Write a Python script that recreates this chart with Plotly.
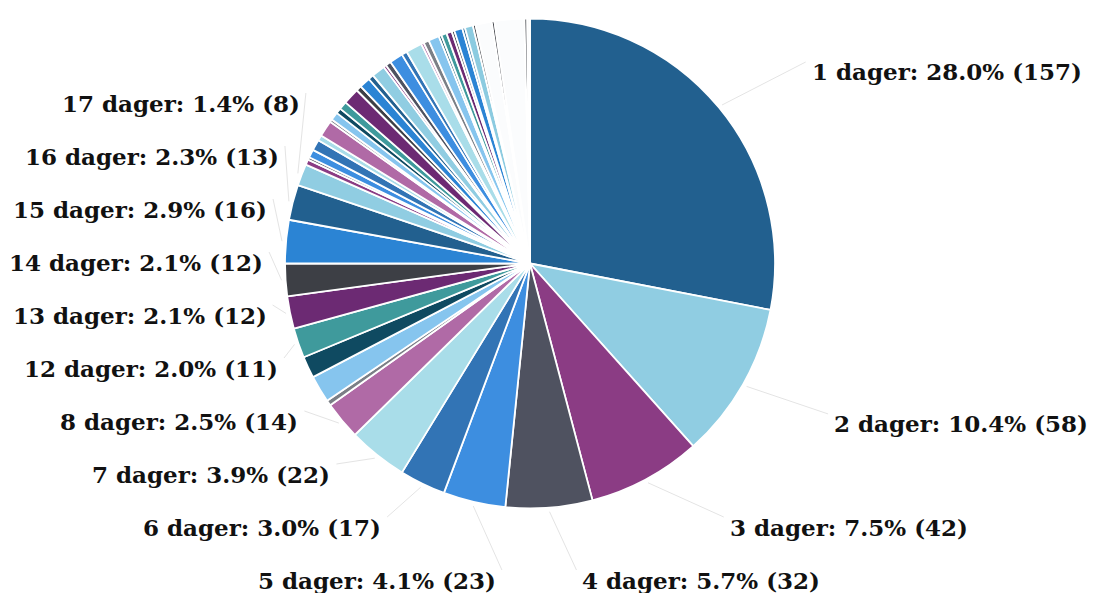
import math
import plotly.graph_objects as go

W, H = 1093, 593

# ---------------- data ----------------
days = [
    "1 dager", "2 dager", "3 dager", "4 dager", "5 dager", "6 dager", "7 dager", "8 dager",
    "9 dager", "10 dager", "11 dager", "12 dager", "13 dager", "14 dager", "15 dager",
    "16 dager", "17 dager", "18 dager", "19 dager", "20 dager", "21 dager", "22 dager",
    "23 dager", "24 dager", "25 dager", "26 dager", "27 dager", "28 dager", "29 dager",
    "30 dager", "31 dager", "32 dager", "33 dager", "34 dager", "35 dager", "36 dager",
    "37 dager", "38 dager", "39 dager", "40 dager", "41 dager", "42 dager", "43 dager",
    "44 dager", "45 dager", "46 dager", "47 dager", "48 dager", "49 dager", "50 dager",
    "51 dager", "52 dager", "53 dager",
]
counts = [
    157, 58, 42, 32, 23, 17, 22, 14,
    2, 10, 8, 11, 12, 12, 16,
    13, 8, 2, 1, 3, 4, 2,
    6, 1, 3, 2, 3, 6, 2,
    4, 2, 5, 1, 2, 5, 2,
    6, 1, 2, 4, 1, 2, 2,
    1, 3, 1, 3, 1, 6, 1,
    11, 1, 1,
]
labelled_days = [
    "1 dager", "2 dager", "3 dager", "4 dager", "5 dager", "6 dager", "7 dager",
    "8 dager", "12 dager", "13 dager", "14 dager", "15 dager", "16 dager", "17 dager",
]

# ---------------- styles ----------------
palette = [
    "#22608f", "#90cde2", "#8b3c84", "#4f5260", "#3d8ee0", "#3274b5", "#a9dde9",
    "#b06aa6", "#7b7f86", "#86c5ee", "#0f4a61", "#3f9a9c", "#6c2a73", "#3d3f45",
    "#2b84d4",
]
colors = [palette[i % len(palette)] for i in range(len(days))]
pale = "#fbfcfd"
for name, col in [("47 dager", "#8ccbe0"), ("48 dager", "#3d3f45"), ("49 dager", pale),
                  ("50 dager", "#3d3f45"), ("51 dager", pale), ("52 dager", "#2e3138"),
                  ("53 dager", pale)]:
    colors[days.index(name)] = col

CX, CY, R = 530.0, 263.5, 245.0
FONT = dict(family="DejaVu Serif", size=23, color="#111111", weight=700)

fig = go.Figure(go.Pie(
    labels=days,
    values=counts,
    sort=False,
    direction="clockwise",
    rotation=0,
    textinfo="none",
    hoverinfo="label+value+percent",
    marker=dict(colors=colors, line=dict(color="white", width=1.8)),
    domain=dict(x=[(CX - R) / W, (CX + R) / W], y=[1 - (CY + R) / H, 1 - (CY - R) / H]),
    showlegend=False,
))

# ---------------- label layout (derived from slice angles) ----------------
total = sum(counts)
BY = 1.327 * R         # vertical reach of the label ring
BX = 1.306 * R         # ring used for horizontal placement
SPACING = 53
YMAX = H - 13
YMIN = 72
items = []
cum = 0
for d, c in zip(days, counts):
    start = cum / total * 360
    cum += c
    end = cum / total * 360
    if d in labelled_days:
        mid = math.radians((start + end) / 2)
        side = "right" if math.sin(mid) >= 0 else "left"
        ny = CY - BY * math.cos(mid)
        items.append(dict(day=d, count=c, mid=mid, side=side, ny=ny))

for side in ("left", "right"):
    group = sorted([it for it in items if it["side"] == side], key=lambda it: -it["ny"])
    prev = None
    for it in group:
        y = min(it["ny"], YMAX) if prev is None else min(it["ny"], prev - SPACING)
        it["y"] = max(y, YMIN)
        prev = it["y"]

annotations = []
shapes = []
for it in items:
    y = it["y"]
    s = math.sqrt(max(0.0, 1 - ((y - CY) / BX) ** 2))
    if it["side"] == "left":
        x = CX + 8 - 1.114 * R * s
        xanchor = "right"
        lx = x + 4
    else:
        x = CX - 1 + 1.43 * R * s
        xanchor = "left"
        lx = x - 4
    pct = it["count"] / total * 100
    text = f"{it['day']}: {pct:.1f}% ({it['count']})"
    annotations.append(dict(
        x=x / W, y=1 - y / H, xref="paper", yref="paper", text=text,
        showarrow=False, xanchor=xanchor, yanchor="middle", font=FONT,
    ))
    ex = CX + (R + 4) * math.sin(it["mid"])
    ey = CY - (R + 4) * math.cos(it["mid"])
    shapes.append(dict(
        type="line", xref="paper", yref="paper",
        x0=ex / W, y0=1 - ey / H, x1=lx / W, y1=1 - (y - 10) / H,
        line=dict(color="#e4e4e4", width=1),
    ))

fig.update_layout(
    width=W, height=H,
    margin=dict(l=0, r=0, t=0, b=0),
    paper_bgcolor="white",
    plot_bgcolor="white",
    annotations=annotations,
    shapes=shapes,
)

fig.write_html("out.html")
